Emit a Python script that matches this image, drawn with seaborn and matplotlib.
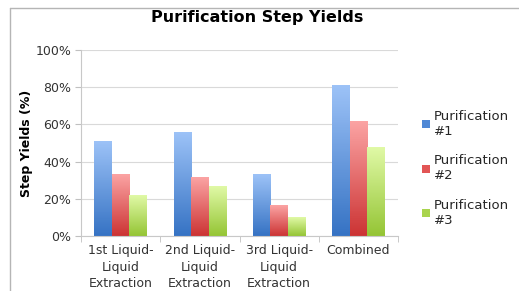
import numpy as np
import pandas as pd
import matplotlib
matplotlib.use("Agg")
import matplotlib.pyplot as plt
import seaborn as sns
from matplotlib.colors import LinearSegmentedColormap
from matplotlib.patches import Patch
from matplotlib.lines import Line2D

steps = ["1st Liquid-\nLiquid\nExtraction", "2nd Liquid-\nLiquid\nExtraction",
         "3rd Liquid-\nLiquid\nExtraction", "Combined"]
series = ["Purification\n#1", "Purification\n#2", "Purification\n#3"]
purif_1 = [51, 55.5, 33, 81]
purif_2 = [33, 31.5, 16.5, 61.5]
purif_3 = [22, 26.5, 10, 47.5]

df = pd.DataFrame({
    "step": steps * 3,
    "series": [s for s in series for _ in steps],
    "yield": purif_1 + purif_2 + purif_3,
})

# dark bottom -> light top gradients
grads = [("#3673c4", "#9cc2f7"), ("#cc3434", "#fba3a3"), ("#95c535", "#e0f9a6")]
mids = ["#4f88d6", "#e25555", "#a9d44d"]

sns.set_style("white")
plt.rcParams["font.family"] = ["DejaVu Sans"]

fig = plt.figure(figsize=(5.19, 2.91), dpi=100)
ax = fig.add_axes([0.156, 0.189, 0.611, 0.639])

sns.barplot(data=df, x="step", y="yield", hue="series", palette=mids,
            width=0.66, gap=0, saturation=1, ax=ax, legend=False)

grad = np.linspace(0, 1, 64).reshape(-1, 1)
for cont, (c0, c1) in zip(ax.containers, grads):
    cmap = LinearSegmentedColormap.from_list("g", [c0, c1])
    for bar in cont:
        x0, y0 = bar.get_x(), bar.get_y()
        w, h = bar.get_width(), bar.get_height()
        ax.imshow(grad, cmap=cmap, origin="lower", aspect="auto",
                  extent=[x0, x0 + w, y0, y0 + h], zorder=2)
        bar.set_alpha(0)

ax.set_xlim(-0.5, 3.5)
ax.set_ylim(0, 100)
ax.set_yticks(range(0, 101, 20))
ax.set_yticklabels([f"{v}%" for v in range(0, 101, 20)], fontsize=9, color="#333333")
ax.yaxis.grid(True, color="#d9d9d9", linewidth=0.8, zorder=0)
ax.set_axisbelow(True)
ax.set_xticks(range(4))
ax.set_xticklabels(steps, fontsize=9, color="#333333", linespacing=1.35)
ax.tick_params(axis="x", length=0, pad=6)
ax.tick_params(axis="y", length=4, color="#c0c0c0", left=True, pad=3)
ax.set_xticks([-0.5, 0.5, 1.5, 2.5, 3.5], minor=True)
ax.tick_params(axis="x", which="minor", length=4, color="#c0c0c0", bottom=True)
for side in ["top", "right"]:
    ax.spines[side].set_visible(False)
for side in ["left", "bottom"]:
    ax.spines[side].set_color("#c8c8c8")
    ax.spines[side].set_linewidth(0.8)
ax.set_xlabel("")
ax.set_ylabel("Step Yields (%)", fontsize=9, fontweight="bold", labelpad=2, color="black")

fig.suptitle("Purification Step Yields", x=0.495, y=0.965, fontsize=11.5,
             fontweight="bold", color="black")

handles = [Patch(facecolor=m, edgecolor="none") for m in mids]
fig.legend(handles, series, loc="upper left", bbox_to_anchor=(0.8, 0.645),
           frameon=False, fontsize=9.5, handlelength=0.6, handleheight=0.6,
           handletextpad=0.3, labelspacing=1.25, borderpad=0)

# outer chart frame
fig.add_artist(Line2D([0.019, 1], [0.9725, 0.9725], color="#b5b5b5", lw=1, transform=fig.transFigure))
fig.add_artist(Line2D([0.019, 0.019], [0, 0.9725], color="#b5b5b5", lw=1, transform=fig.transFigure))

fig.savefig("out.png", dpi=100)
